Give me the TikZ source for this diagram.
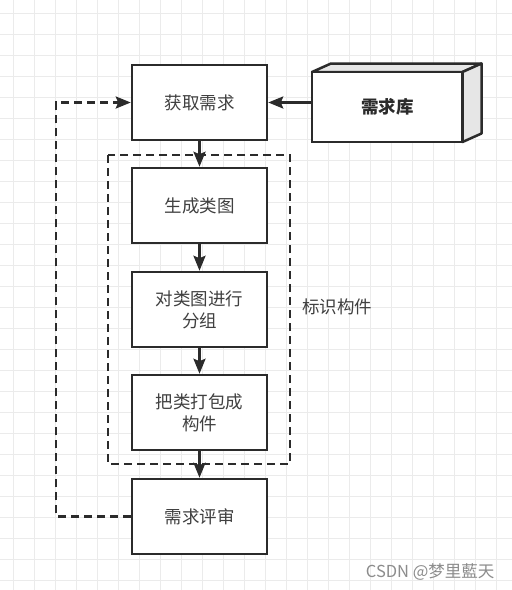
\documentclass[tikz,border=0pt]{standalone}
\usepackage{fontspec}
\newfontfamily\cjk{Noto Sans CJK SC}
\usetikzlibrary{arrows.meta}
\definecolor{linec}{HTML}{2B2B2B}
\definecolor{gridc}{HTML}{EBEBEB}
\definecolor{topc}{HTML}{E6E6E6}
\begin{document}
\begin{tikzpicture}[x=1pt,y=-1pt,
  proc/.style={draw=linec,line width=2.5pt,fill=white,minimum width=135pt,minimum height=75pt,inner sep=0pt,align=center,font=\cjk\fontsize{17.5}{22}\selectfont,text=linec!90},
  arr/.style={draw=linec,line width=2.5pt,-{Stealth[length=15pt,width=12pt,inset=2.5pt]}},
  dsh/.style={draw=linec,line width=2.5pt,dash pattern=on 8pt off 5pt}]
\useasboundingbox (0,0) rectangle (512,590);
\fill[white] (0,0) rectangle (512,590);
% grid
\foreach \i in {0,...,23} {
  \draw[gridc,line width=1pt] ({13.3+21*\i},0) -- ({13.3+21*\i},590);
}
\foreach \i in {0,...,27} {
  \draw[gridc,line width=1pt] (0,{13.3+21*\i}) -- (512,{13.3+21*\i});
}
% nodes
\node[proc] (get) at (199.5,102.5) {获取需求};
\node[proc] (gen) at (199.5,205.5) {生成类图};
\node[proc] (grp) at (199.5,309.5) {对类图进行\\分组};
\node[proc] (pack) at (199.5,412.5) {把类打包成\\构件};
\node[proc] (rev) at (199.5,516.5) {需求评审};
% group
\draw[dsh] (108,155) rectangle (290,464);
\node[font=\cjk\fontsize{17.5}{22}\selectfont,text=linec!90] (lbl) at (337,307) {标识构件};
% cube
\filldraw[linec,fill=topc,line width=2.5pt,line join=round] (312,72) -- (331,63.5) -- (481.5,63.5) -- (462.5,72) -- cycle;
\filldraw[linec,fill=topc,line width=2.5pt,line join=round] (462.5,72) -- (481.5,63.5) -- (481.5,133.5) -- (462.5,142) -- cycle;
\node[draw=linec,line width=2.5pt,fill=white,minimum width=150.5pt,minimum height=70pt,inner sep=0pt,font=\cjk\bfseries\fontsize{17.5}{22}\selectfont,text=linec] (lib) at (387.25,107) {需求库};
% connectors
\draw[arr] (lib.west |- get.east) -- (get.east);
\draw[arr] (get) -- (gen);
\draw[arr] (gen) -- (grp);
\draw[arr] (grp) -- (pack);
\draw[arr] (pack) -- (rev);
\coordinate (c1) at (56,516.5);
\coordinate (c2) at (56,102.5);
\draw[dsh] (rev.west) -- (c1) -- (c2) -- ([xshift=-16pt]get.west);
\draw[arr] ([xshift=-16pt]get.west) -- (get.west);
% watermark
\node[font=\cjk\fontsize{16.5}{20}\selectfont,text=black!45,anchor=east] (wm) at (498,572) {CSDN @梦里藍天};
\end{tikzpicture}
\end{document}
